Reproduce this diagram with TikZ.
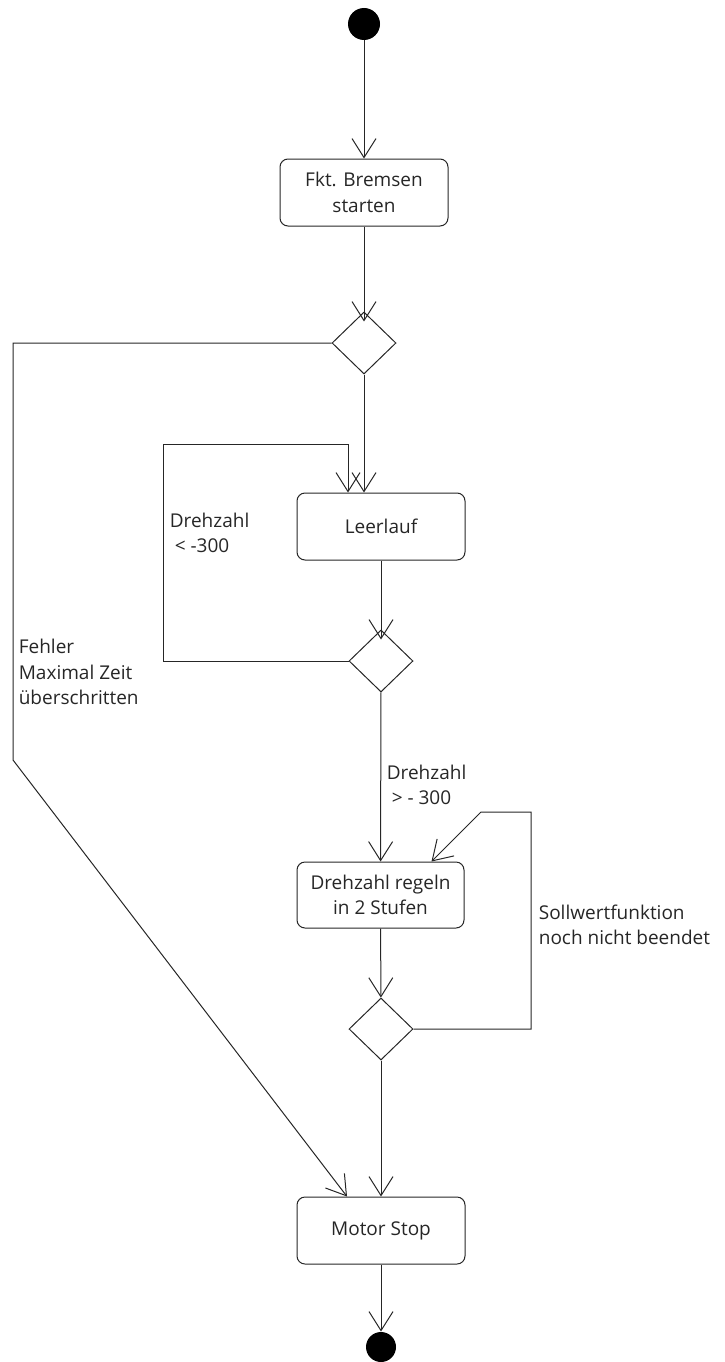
\documentclass[tikz,border=0pt]{standalone}
\usepackage{fontspec}
\setmainfont{Open Sans}
\usetikzlibrary{arrows.meta,shapes.geometric,positioning}

\tikzset{
  action/.style={draw,rounded corners=8pt,minimum width=168pt,minimum height=67pt,align=center,inner sep=2pt},
  decision/.style={draw,diamond,minimum width=64pt,minimum height=62pt,inner sep=0pt},
  startstop/.style={circle,fill=black,inner sep=0pt},
  arr/.style={-{Straight Barb[length=19pt,width=24pt]}},
  guard/.style={anchor=west,align=left}
}

\begin{document}
\begin{tikzpicture}[x=1pt,y=-1pt,line width=1pt,draw=black!85,
  every node/.style={font=\fontsize{19}{25.5}\selectfont,text=black!85}]
  \useasboundingbox (0,0) rectangle (724,1362);
  % states
  \node[startstop,minimum size=32pt] (start) at (364,24) {};
  \node[action] (bremsen) at (364,192.5) {Fkt. Bremsen\\starten};
  \node[decision] (d1) at (364,343) {};
  \node[action] (leerlauf) at (381,526.5) {Leerlauf};
  \node[decision] (d2) at (381,661) {};
  \node[action,minimum width=167pt,minimum height=66pt] (regeln) at (380.5,895) {Drehzahl regeln\\in 2 Stufen};
  \node[decision] (d3) at (381,1029) {};
  \node[action] (stop) at (381,1230.5) {Motor Stop};
  \node[startstop,minimum size=30pt] (end) at (381,1347) {};
  % corner points of the loops
  \coordinate (l1) at (163,444);
  \coordinate (l2) at (348,444);
  \coordinate (r1) at (531,812);
  \coordinate (r2) at (481,812);
  \coordinate (r3) at ([xshift=51pt]regeln.north);
  \coordinate (f1) at (13,760);
  \coordinate (f2) at ([xshift=-34pt]stop.north);
  % transitions
  \draw[arr] (start) -- (bremsen);
  \draw[arr,shorten >=-10pt] (bremsen) -- (d1);
  \draw[arr] (d1.south) -- (d1.south |- leerlauf.north);
  \draw[arr] (d2.west) -| (l1) -- (l2) -- (l2 |- leerlauf.north);
  \draw[arr,shorten >=-10pt] (leerlauf) -- (d2);
  \draw[arr] (d2) -- (regeln);
  \draw[arr] (regeln) -- (d3);
  \draw[arr] (d3.east) -| (r1) -- (r2) -- (r3);
  \draw[arr] (d3) -- (stop);
  \draw[arr] (d1.west) -| (f1) -- (f2);
  \draw[arr] (stop) -- (end);
  % guards
  \node[guard] (g1) at (166,533) {Drehzahl\\\ <~-300};
  \node[guard] (g2) at (383,785) {Drehzahl\\\ >~-~300};
  \node[guard] (g3) at (535,925) {Sollwertfunktion\\noch nicht beendet};
  \node[guard] (g4) at (15,672) {Fehler\\Maximal Zeit\\überschritten};
\end{tikzpicture}
\end{document}
